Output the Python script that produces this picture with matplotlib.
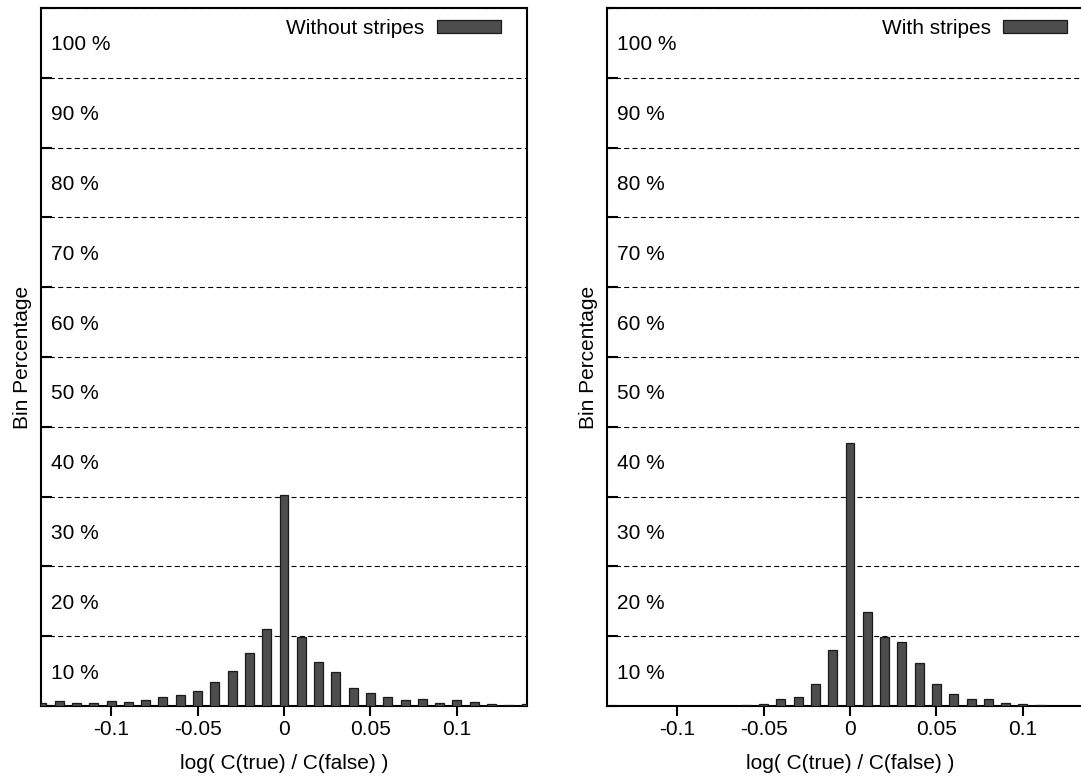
import matplotlib
matplotlib.use("Agg")
import matplotlib.pyplot as plt

plt.rcParams["font.family"] = ["Liberation Sans", "DejaVu Sans"]
plt.rcParams["axes.unicode_minus"] = False

# Histogram bin centres and percentages
bins_without = [-0.14, -0.13, -0.12, -0.11, -0.10, -0.09, -0.08, -0.07, -0.06, -0.05,
                -0.04, -0.03, -0.02, -0.01, 0.00, 0.01, 0.02, 0.03, 0.04, 0.05,
                0.06, 0.07, 0.08, 0.09, 0.10, 0.11, 0.12, 0.13, 0.14]
pct_without = [0.4, 0.7, 0.5, 0.5, 0.7, 0.6, 0.9, 1.3, 1.6, 2.1,
               3.5, 5.0, 7.6, 11.1, 30.2, 9.9, 6.3, 4.8, 2.6, 1.8,
               1.3, 0.9, 1.05, 0.4, 0.8, 0.6, 0.3, 0.2, 0.3]

bins_with = [-0.06, -0.05, -0.04, -0.03, -0.02, -0.01, 0.00, 0.01, 0.02, 0.03,
             0.04, 0.05, 0.06, 0.07, 0.08, 0.09, 0.10, 0.11]
pct_with = [0.15, 0.3, 0.95, 1.3, 3.1, 8.0, 37.7, 13.4, 9.95, 9.2,
            6.2, 3.2, 1.7, 0.95, 0.95, 0.4, 0.3, 0.1]

x_ticks = [-0.1, -0.05, 0.0, 0.05, 0.1]
x_tick_labels = ["-0.1", "-0.05", "0", "0.05", "0.1"]
y_ticks = [0, 10, 20, 30, 40, 50, 60, 70, 80, 90, 100]
y_label_values = [10, 20, 30, 40, 50, 60, 70, 80, 90, 100]

FS = 15
W, H = 1081, 780
BAR_COLOR = "#4d4d4d"

fig = plt.figure(figsize=(W / 100, H / 100), dpi=100)


def panel(left_px, bins, pct, title):
    ax = fig.add_axes([left_px / W, (H - 706) / H, 486 / W, 698 / H])
    bars = ax.bar(bins, pct, width=0.0052, color=BAR_COLOR, edgecolor="#1a1a1a",
                  linewidth=0.9, label=title, zorder=3)
    ax.set_xlim(-0.1405, 0.1405)
    ax.set_ylim(0, 100)
    ax.set_xticks(x_ticks)
    ax.set_xticklabels(x_tick_labels, fontsize=FS)
    ax.set_yticks(y_ticks)
    ax.set_yticklabels([])
    ax.tick_params(axis="x", direction="out", length=7, width=1.5, pad=3)
    ax.tick_params(axis="y", direction="in", length=8, width=1.5, left=True, right=False)
    for s in ax.spines.values():
        s.set_linewidth(1.5)
        s.set_color("black")
    ax.yaxis.grid(True, linestyle=(0, (4.5, 3)), color="black", linewidth=0.8, zorder=1)
    ax.set_axisbelow(True)

    # percentage labels drawn inside the plot area, under each grid line
    for v in y_label_values:
        ax.annotate(f"{v} %", xy=(0, v - 5.3), xycoords=("axes fraction", "data"),
                    xytext=(10, 0), textcoords="offset pixels",
                    ha="left", va="center", fontsize=FS)

    ax.set_xlabel("log( C(true) / C(false) )", fontsize=FS, labelpad=11)

    ax.legend(handles=[bars], loc="upper right", frameon=False, markerfirst=False,
              fontsize=FS, handlelength=3.05, handleheight=0.53, handletextpad=0.62,
              borderpad=0, borderaxespad=0,
              bbox_to_anchor=(1 - 26 / 486, 1 - 11 / 698))
    fig.text((left_px - 18) / W, (H - 357) / H, "Bin Percentage", rotation=90,
             ha="center", va="center", fontsize=FS)
    return ax


panel(41, bins_without, pct_without, "Without stripes")
panel(607, bins_with, pct_with, "With stripes")

fig.savefig("out.png", dpi=100)
